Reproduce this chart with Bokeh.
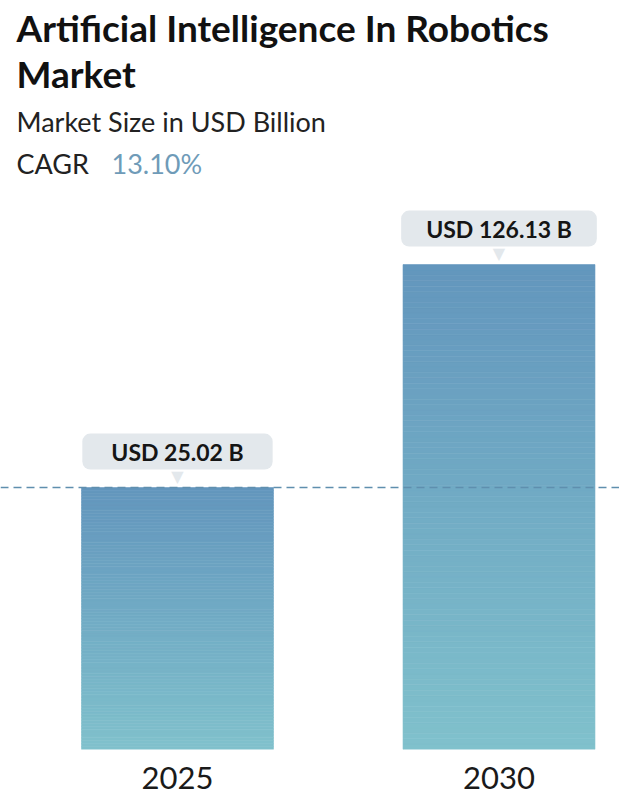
import numpy as np
from bokeh.plotting import figure
from bokeh.models import Range1d, Span, FixedTicker, LinearScale
from bokeh.core.properties import value
from bokeh.embed import file_html
from bokeh.resources import INLINE

# ---- data ----
years = ["2025", "2030"]
market_size = [25.02, 126.13]
value_labels = ["USD 25.02 B", "USD 126.13 B"]
title_line1 = "Artificial Intelligence In Robotics"
title_line2 = "Market"
subtitle = "Market Size in USD Billion"
cagr_label = "CAGR"
cagr_value = "13.10%"

FONT = "Lato"
W, H = 619, 806
FRAME_H = 749
BASE = 3.74          # visual floor of the (log) value axis
TOP = 857.0

p = figure(width=W, height=H, output_backend="svg", toolbar_location=None,
           y_axis_type="log", x_range=Range1d(-0.5505, 1.3748),
           y_range=Range1d(BASE, TOP),
           min_border_left=0, min_border_right=0, min_border_top=0,
           min_border_bottom=H - FRAME_H)
p.extra_x_ranges = {"px": Range1d(0, W)}
p.extra_y_ranges = {"px": Range1d(0, FRAME_H)}
p.extra_x_scales = {"px": LinearScale()}
p.extra_y_scales = {"px": LinearScale()}
p.outline_line_color = None
p.xgrid.visible = False
p.ygrid.visible = False
p.yaxis.visible = False
p.background_fill_color = "white"
p.border_fill_color = "white"

# ---- gradient bars (sliced between axis floor and each value) ----
top_rgb = np.array([99, 150, 189])
bot_rgb = np.array([128, 193, 204])
N = 90
xs = list(range(len(years)))
bw = 0.597
for xi, v in zip(xs, market_size):
    edges = np.geomspace(BASE, v, N + 1)
    cols = []
    for i in range(N):
        t = (i + 0.5) / N  # 0 bottom -> 1 top
        c = bot_rgb + (top_rgb - bot_rgb) * t
        cols.append("#%02x%02x%02x" % tuple(int(round(a)) for a in c))
    p.quad(left=[xi - bw / 2] * N, right=[xi + bw / 2] * N,
           bottom=edges[:-1], top=edges[1:], fill_color=cols,
           line_color=cols, line_width=0.6)

# ---- dashed reference line at first value ----
p.add_layout(Span(location=market_size[0], dimension="width",
                  line_color="#5f8fae", line_width=1.5, line_dash="8 5"))

# ---- value callouts ----
box_fill = "#e3e8ec"
p.text(x=xs, y=market_size, text=["\u25BC"] * len(xs), y_offset=-11,
       text_align="center", text_baseline="middle",
       text_font=value("DejaVu Sans"), text_font_size="16px",
       text_color=box_fill)
for xi, v, lab, pad in zip(xs, market_size, value_labels, [29, 25]):
    p.text(x=[xi], y=[v], text=[lab], y_offset=-36,
           text_align="center", text_baseline="middle",
           text_font=value(FONT), text_font_style="bold",
           text_font_size="23px", text_color="#151515",
           background_fill_color=box_fill,
           padding=(pad, pad, 4, 4), border_radius=8)

# ---- titles ----
def px_text(x, y, s, size, color="#111111", style="normal"):
    p.text(x=[x], y=[y], text=[s], x_range_name="px", y_range_name="px",
           text_font=value(FONT), text_font_style=style, text_font_size=size,
           text_color=color, text_baseline="alphabetic", text_align="left")

px_text(16, FRAME_H - 27, title_line1, "37px", style="bold")
px_text(16, FRAME_H - 72.5, title_line2, "37px", style="bold")
px_text(16, FRAME_H - 121, subtitle, "27px", color="#222222")
px_text(16, FRAME_H - 163, cagr_label, "27px", color="#222222")
px_text(111, FRAME_H - 163, cagr_value, "27px", color="#6f9bb8")

# ---- x axis ----
ax = p.xaxis[0]
ax.ticker = FixedTicker(ticks=xs)
ax.major_label_overrides = {i: y for i, y in zip(xs, years)}
ax.axis_line_color = None
ax.major_tick_line_color = None
ax.minor_tick_line_color = None
ax.major_label_text_font = FONT
ax.major_label_text_font_size = "31px"
ax.major_label_text_color = "#1a1a1a"
ax.major_label_standoff = 11

open("out.html", "w").write(file_html(p, INLINE))
